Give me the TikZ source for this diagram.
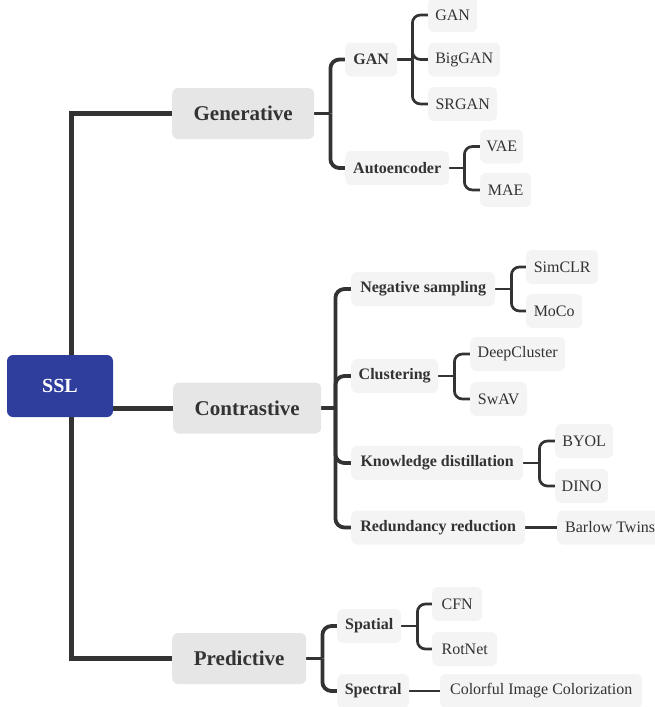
\documentclass[tikz,border=0pt]{standalone}
\usepackage{fontspec}
\setmainfont{Liberation Serif}
\usetikzlibrary{backgrounds,calc}
\definecolor{sslblue}{HTML}{2F3E9C}
\definecolor{topgray}{HTML}{E6E6E6}
\definecolor{boxgray}{HTML}{F4F4F4}
\definecolor{ink}{HTML}{333333}

\begin{document}
\begin{tikzpicture}[x=1pt,y=-1pt,
  base/.style={rounded corners=6pt, inner sep=0pt, align=center, text=ink},
  rootbox/.style={base, fill=sslblue, text=white,
    font=\fontsize{20}{24}\selectfont\bfseries,
    minimum width=106pt, minimum height=62pt},
  topbox/.style={base, fill=topgray, anchor=west,
    font=\fontsize{21}{25}\selectfont\bfseries, minimum height=51pt},
  midbox/.style={base, fill=boxgray, anchor=west,
    font=\fontsize{16}{19}\selectfont\bfseries, minimum height=34pt},
  leafbox/.style={base, fill=boxgray, anchor=west,
    font=\fontsize{16}{19}\selectfont, minimum height=34pt},
  trunk/.style={draw=ink, line width=5pt},
  busone/.style={draw=ink, line width=3.8pt, rounded corners=9pt},
  bustwo/.style={draw=ink, line width=2.7pt, rounded corners=8pt},
]
\useasboundingbox (0,0) rectangle (655,707);

% root
\node[rootbox] (ssl) at (60,386) {SSL};

% first level
\node[topbox, minimum width=142pt] (gen)  at (172,113.5) {Generative};
\node[topbox, minimum width=148pt] (con)  at (173,408)   {Contrastive};
\node[topbox, minimum width=134pt] (pred) at (172,658.5) {Predictive};

% generative branch
\node[midbox, minimum width=52pt]  (ganm) at (345,59.5) {GAN};
\node[midbox, minimum width=104pt] (aem)  at (345,168)  {Autoencoder};
\node[leafbox, minimum width=49pt] (gan)    at (428,15)   {GAN};
\node[leafbox, minimum width=72pt] (biggan) at (428,59.5) {BigGAN};
\node[leafbox, minimum width=69pt] (srgan)  at (428,104)  {SRGAN};
\node[leafbox, minimum width=43pt] (vae)    at (480,146.5) {VAE};
\node[leafbox, minimum width=51pt] (mae)    at (480,190)  {MAE};

% contrastive branch
\node[midbox, minimum width=144pt] (neg) at (351,289)   {Negative sampling};
\node[midbox, minimum width=87pt]  (clu) at (351,376)   {Clustering};
\node[midbox, minimum width=172pt] (kd)  at (351,463)   {Knowledge distillation};
\node[midbox, minimum width=174pt] (rr)  at (351,527.5) {Redundancy reduction};
\node[leafbox, minimum width=72pt] (simclr)  at (526,267)   {SimCLR};
\node[leafbox, minimum width=56pt] (moco)    at (526,311)   {MoCo};
\node[leafbox, minimum width=95pt] (dcl)     at (470,354)   {DeepCluster};
\node[leafbox, minimum width=57pt] (swav)    at (470,399)   {SwAV};
\node[leafbox, minimum width=58pt] (byol)    at (555,441)   {BYOL};
\node[leafbox, minimum width=53pt] (dino)    at (555,486)   {DINO};
\node[leafbox, inner xsep=8pt]     (barlow)  at (557,527.5) {Barlow Twins};

% predictive branch
\node[midbox, minimum width=64pt] (spa) at (337,626) {Spatial};
\node[midbox, minimum width=72pt] (spe) at (337,691) {Spectral};
\node[leafbox, minimum width=50pt]  (cfn)    at (432,604) {CFN};
\node[leafbox, minimum width=65pt]  (rotnet) at (432,649) {RotNet};
\node[leafbox, minimum width=202pt] (cic)    at (440,691) {Colorful Image Colorization};

\begin{scope}[on background layer]
  % main trunk
  \coordinate (tk) at (71.5,408);
  \draw[trunk] (gen.west) -| (tk) |- (pred.west);
  \draw[trunk] (ssl.east |- con.west) -- (con.west);

  % first-level buses
  \coordinate (gb) at ($(gen.east)+(16,0)$);
  \draw[busone] (gen.east) -- (gb);
  \draw[busone] (gb) |- (ganm.west);
  \draw[busone] (gb) |- (aem.west);

  \coordinate (cb) at ($(con.east)+(14,0)$);
  \draw[busone] (con.east) -- (cb);
  \foreach \n in {neg,clu,kd,rr} \draw[busone] (cb) |- (\n.west);

  \coordinate (pb) at ($(pred.east)+(16,0)$);
  \draw[busone] (pred.east) -- (pb);
  \draw[busone] (pb) |- (spa.west);
  \draw[busone] (pb) |- (spe.west);

  % second-level buses
  \coordinate (ganb) at ($(ganm.east)+(15,0)$);
  \draw[bustwo] (ganm.east) -- (ganb);
  \foreach \n in {gan,biggan,srgan} \draw[bustwo] (ganb) |- (\n.west);

  \coordinate (aeb) at ($(aem.east)+(15,0)$);
  \draw[bustwo] (aem.east) -- (aeb);
  \foreach \n in {vae,mae} \draw[bustwo] (aeb) |- (\n.west);

  \coordinate (negb) at ($(neg.east)+(16,0)$);
  \draw[bustwo] (neg.east) -- (negb);
  \foreach \n in {simclr,moco} \draw[bustwo] (negb) |- (\n.west);

  \coordinate (club) at ($(clu.east)+(16,0)$);
  \draw[bustwo] (clu.east) -- (club);
  \foreach \n in {dcl,swav} \draw[bustwo] (club) |- (\n.west);

  \coordinate (kdb) at ($(kd.east)+(16,0)$);
  \draw[bustwo] (kd.east) -- (kdb);
  \foreach \n in {byol,dino} \draw[bustwo] (kdb) |- (\n.west);

  \draw[bustwo] (rr.east) -- (barlow.west);

  \coordinate (spab) at ($(spa.east)+(16,0)$);
  \draw[bustwo] (spa.east) -- (spab);
  \foreach \n in {cfn,rotnet} \draw[bustwo] (spab) |- (\n.west);

  \draw[bustwo] (spe.east) -- (cic.west);
\end{scope}
\end{tikzpicture}
\end{document}
